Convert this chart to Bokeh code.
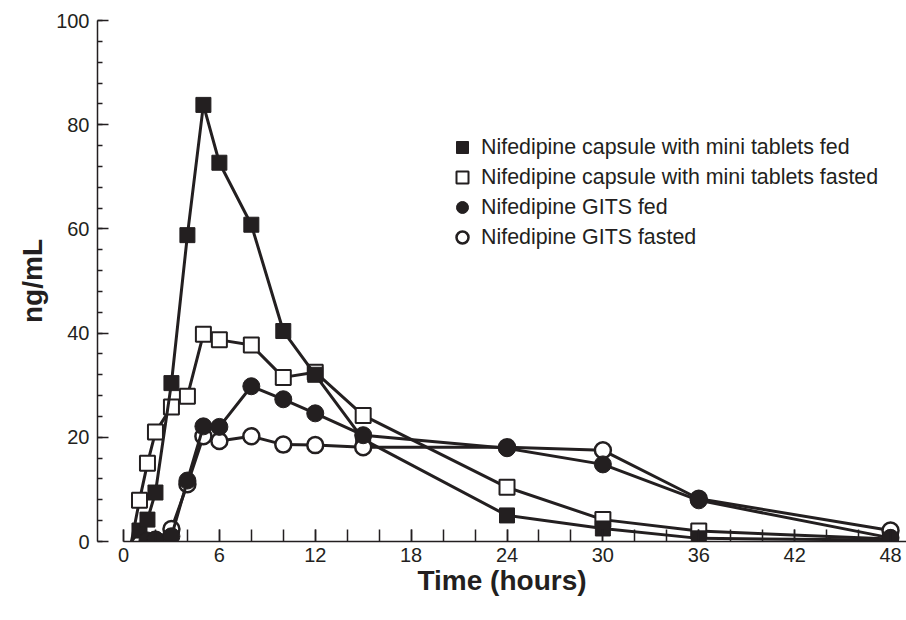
from bokeh.plotting import figure
from bokeh.models import FixedTicker, Legend, LegendItem, Range1d
from bokeh.embed import file_html
from bokeh.resources import INLINE

# ---- data ----
cap_t = [0.5, 1, 1.5, 2, 3, 4, 5, 6, 8, 10, 12, 15, 24, 30, 36, 48]
cap_fed = [0, 2.1, 4.2, 9.4, 30.4, 58.8, 83.8, 72.7, 60.8, 40.4, 32.0, 19.6, 5.0, 2.5, 0.6, 0.3]
cap_fasted = [0, 7.9, 15.0, 21.0, 25.8, 27.9, 39.8, 38.7, 37.7, 31.5, 32.5, 24.2, 10.4, 4.2, 2.0, 0.5]

gits_fed_t = [1, 1.5, 2, 3, 4, 5, 6, 8, 10, 12, 15, 24, 30, 36, 48]
gits_fed = [0, 0.2, 0.4, 1.0, 11.7, 22.1, 22.0, 29.8, 27.3, 24.6, 20.4, 17.9, 14.8, 7.9, 0.7]

gits_fasted_t = [1, 2, 3, 4, 5, 6, 8, 10, 12, 15, 24, 30, 36, 48]
gits_fasted = [0, 0.3, 2.4, 11.0, 20.2, 19.3, 20.2, 18.6, 18.5, 18.1, 18.1, 17.5, 8.2, 2.1]

x_ticks = [0, 6, 12, 18, 24, 30, 36, 42, 48]
x_minor = list(range(0, 49, 2))
y_ticks = [0, 20, 40, 60, 80, 100]
y_minor = list(range(0, 101, 4))

labels = [
    "Nifedipine capsule with mini tablets fed",
    "Nifedipine capsule with mini tablets fasted",
    "Nifedipine GITS fed",
    "Nifedipine GITS fasted",
]
x_title = "Time (hours)"
y_title = "ng/mL"

INK = "#231f20"
FONT = "Liberation Sans"

p = figure(width=906, height=606, output_backend="svg", toolbar_location=None,
           x_range=Range1d(-1.627, 49.0), y_range=Range1d(0, 100),
           min_border_left=97, min_border_right=0, min_border_top=20, min_border_bottom=65)
p.outline_line_color = None
p.xgrid.visible = False
p.ygrid.visible = False
p.background_fill_color = "white"

for ax in (p.xaxis[0], p.yaxis[0]):
    ax.axis_line_color = INK
    ax.axis_line_width = 1.5
    ax.major_tick_line_color = INK
    ax.minor_tick_line_color = INK
    ax.major_tick_line_width = 1.5
    ax.minor_tick_line_width = 1.5
    ax.major_tick_out = 0
    ax.minor_tick_out = 0
    ax.major_label_text_font = FONT
    ax.major_label_text_font_size = "20px"
    ax.major_label_text_color = INK
    ax.axis_label_text_font = FONT
    ax.axis_label_text_font_size = "28px"
    ax.axis_label_text_font_style = "bold"
    ax.axis_label_text_color = INK

xa = p.xaxis[0]
xa.ticker = FixedTicker(ticks=x_ticks, minor_ticks=x_minor)
xa.bounds = (0, 49.0)
xa.major_tick_in = 12
xa.minor_tick_in = 12
xa.major_label_standoff = 6
xa.axis_label = x_title
xa.axis_label_standoff = 0

ya = p.yaxis[0]
ya.ticker = FixedTicker(ticks=y_ticks, minor_ticks=y_minor)
ya.bounds = (0, 100)
ya.major_tick_in = 11
ya.minor_tick_in = 5
ya.major_label_standoff = 8
ya.axis_label = y_title
ya.axis_label_standoff = 5

LW = 3

# capsule fasted (open squares)
p.line(cap_t, cap_fasted, line_color=INK, line_width=LW)
r_cfa = p.scatter(cap_t[1:], cap_fasted[1:], marker="square", size=15,
                  fill_color="white", line_color=INK, line_width=2)
# capsule fed (filled squares)
p.line(cap_t, cap_fed, line_color=INK, line_width=LW)
r_cfe = p.scatter(cap_t[1:], cap_fed[1:], marker="square", size=15,
                  fill_color=INK, line_color=INK, line_width=1)
# GITS fasted (open circles)
p.line(gits_fasted_t, gits_fasted, line_color=INK, line_width=LW)
r_gfa = p.scatter(gits_fasted_t[1:], gits_fasted[1:], marker="circle", size=16,
                  fill_color="white", line_color=INK, line_width=2.5)
# GITS fed (filled circles)
p.line(gits_fed_t, gits_fed, line_color=INK, line_width=LW)
r_gfe = p.scatter(gits_fed_t[1:], gits_fed[1:], marker="circle", size=17,
                  fill_color=INK, line_color=INK, line_width=1)

legend = Legend(items=[
    LegendItem(label=labels[0], renderers=[r_cfe]),
    LegendItem(label=labels[1], renderers=[r_cfa]),
    LegendItem(label=labels[2], renderers=[r_gfe]),
    LegendItem(label=labels[3], renderers=[r_gfa]),
], location=(350, 289))
legend.padding = 0
legend.margin = 0
legend.spacing = 0
legend.glyph_width = 30
legend.glyph_height = 30
legend.label_height = 30
legend.label_standoff = 4
legend.label_text_font = FONT
legend.label_text_font_size = "21.4px"
legend.label_text_color = INK
legend.border_line_color = None
legend.background_fill_alpha = 0
p.add_layout(legend, "center")

open("out.html", "w").write(file_html(p, INLINE))
